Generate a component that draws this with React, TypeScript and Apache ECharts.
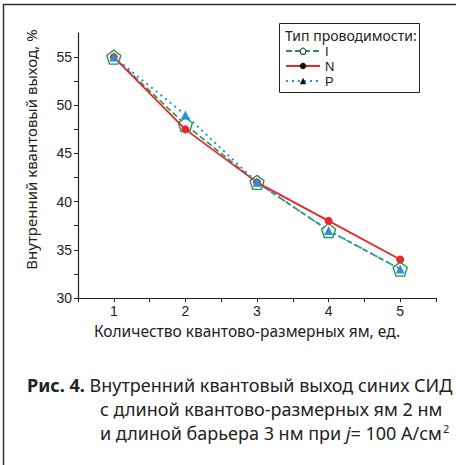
import React, { useEffect, useRef } from "react";
import * as echarts from "echarts";

// Number of quantum wells
const wells = [1, 2, 3, 4, 5];
// Internal quantum efficiency, % — by conductivity type
const typeI = [55, 48, 42, 37, 33];
const typeN = [55, 47.5, 42, 38, 34];
const typeP = [55, 49, 42, 37, 33];

const seriesNames = ["I", "N", "P"];
const legendTitle = "Тип проводимости:";
const xName = "Количество квантово-размерных ям, ед.";
const yName = "Внутренний квантовый выход, %";

const GREEN = "#1f9a4c";
const RED = "#e8262b";
const BLUE = "#2c8fd8";
const PENTAGON =
  "path://M0,-1L0.951,-0.309L0.588,0.809L-0.588,0.809L-0.951,-0.309Z";

const tickFont = "'Liberation Sans Narrow', 'Liberation Sans', Arial, sans-serif";
const textFont = "'Noto Sans', 'Open Sans', sans-serif";
const legendFont = "'Liberation Sans', Arial, sans-serif";

function pairs(ys: number[]) {
  return wells.map((x, i) => [x, ys[i]]);
}

// one legend row per series so the rows can sit tightly inside the framed box
const legendSymbolStyles = [
  { color: "#fff", borderColor: "#111", borderWidth: 1 },
  { color: "#111" },
  { color: "#111" },
];

function legendRow(i: number) {
  return {
    orient: "vertical",
    left: 285,
    top: 44 + i * 15,
    padding: 0,
    itemGap: 0,
    itemWidth: 34,
    itemHeight: 8,
    textStyle: { fontFamily: legendFont, fontSize: 13, color: "#222", lineHeight: 14 },
    data: [{ name: seriesNames[i], itemStyle: legendSymbolStyles[i] }],
  };
}

export default function App() {
  const ref = useRef<HTMLDivElement>(null);

  useEffect(() => {
    document.body.style.margin = "0";
    const chart = echarts.init(ref.current!, null, { renderer: "svg" });
    chart.setOption({
      animation: false,
      backgroundColor: "#fff",
      grid: { left: 78, top: 33, right: 20, bottom: 167 },
      xAxis: {
        type: "value",
        min: 0.5,
        max: 5.5,
        interval: 0.5,
        name: xName,
        nameLocation: "middle",
        nameGap: 21,
        nameTextStyle: {
          fontFamily: textFont,
          fontSize: 15.5,
          color: "#222",
          padding: [0, 20, 0, 0],
        },
        axisLine: { lineStyle: { color: "#222", width: 1.2 } },
        axisTick: { inside: false, length: 4, lineStyle: { color: "#222" } },
        axisLabel: {
          fontFamily: tickFont,
          fontSize: 14,
          color: "#222",
          margin: 6,
          formatter: (v: number) => (Number.isInteger(v) ? String(v) : ""),
        },
        splitLine: { show: false },
      },
      yAxis: {
        type: "value",
        min: 30,
        max: 57.5,
        interval: 2.5,
        name: yName,
        nameLocation: "middle",
        nameGap: 40,
        nameTextStyle: {
          fontFamily: textFont,
          fontSize: 15,
          color: "#222",
          padding: [0, 0, 0, 32],
        },
        axisLine: { show: true, lineStyle: { color: "#222", width: 1.2 } },
        axisTick: { show: true, length: 4, lineStyle: { color: "#222" } },
        axisLabel: {
          fontFamily: tickFont,
          fontSize: 14,
          color: "#222",
          margin: 6,
          showMaxLabel: false,
          formatter: (v: number) => (v % 5 === 0 ? String(v) : ""),
        },
        splitLine: { show: false },
      },
      legend: [legendRow(0), legendRow(1), legendRow(2)],
      series: [
        {
          name: seriesNames[0],
          type: "line",
          data: pairs(typeI),
          symbol: PENTAGON,
          symbolSize: 14,
          z: 2,
          lineStyle: { color: GREEN, width: 1.6, type: [6, 3] },
          itemStyle: { color: "#fff", borderColor: GREEN, borderWidth: 1.4 },
        },
        {
          name: seriesNames[1],
          type: "line",
          data: pairs(typeN),
          symbol: "circle",
          symbolSize: 8,
          z: 3,
          lineStyle: { color: RED, width: 1.8 },
          itemStyle: { color: RED },
        },
        {
          name: seriesNames[2],
          type: "line",
          data: pairs(typeP),
          symbol: "triangle",
          symbolSize: 9,
          z: 4,
          lineStyle: { color: BLUE, width: 2, type: [2, 4] },
          itemStyle: { color: BLUE },
        },
      ],
      graphic: [
        {
          type: "rect",
          shape: { x: 3.5, y: 4.5, width: 470, height: 480 },
          style: { fill: "none", stroke: "#333", lineWidth: 1.5 },
          silent: true,
        },
        {
          type: "rect",
          shape: { x: 279.5, y: 23.5, width: 140, height: 69 },
          style: { fill: "#fff", stroke: "#222", lineWidth: 1 },
          z: -1,
          silent: true,
        },
        {
          type: "text",
          x: 285,
          y: 35,
          style: {
            text: legendTitle,
            fontFamily: textFont,
            fontSize: 14,
            fill: "#222",
            verticalAlign: "middle",
          },
        },
        {
          type: "text",
          x: 27,
          y: 385,
          style: {
            text: "{b|Рис. 4.} Внутренний квантовый выход синих СИД",
            fontFamily: textFont,
            fontSize: 18,
            fill: "#222",
            verticalAlign: "middle",
            rich: {
              b: { fontFamily: textFont, fontSize: 18, fontWeight: "bold", fill: "#222" },
            },
          },
        },
        {
          type: "text",
          x: 100,
          y: 409,
          style: {
            text: "с длиной квантово-размерных ям 2 нм",
            fontFamily: textFont,
            fontSize: 18,
            fill: "#222",
            verticalAlign: "middle",
          },
        },
        {
          type: "text",
          x: 100,
          y: 433,
          style: {
            text: "{n|и длиной барьера 3 нм при }{i|j}{n|= 100 А/см}{s|2}",
            fontFamily: textFont,
            fontSize: 18,
            fill: "#222",
            verticalAlign: "middle",
            rich: {
              n: { fontFamily: textFont, fontSize: 18, fill: "#222" },
              i: { fontFamily: textFont, fontSize: 18, fontStyle: "italic", fill: "#222" },
              s: { fontFamily: textFont, fontSize: 11, fill: "#222", padding: [0, 0, 9, 1] },
            },
          },
        },
      ],
    });
    return () => chart.dispose();
  }, []);

  return <div ref={ref} style={{ width: 456, height: 465 }} />;
}
